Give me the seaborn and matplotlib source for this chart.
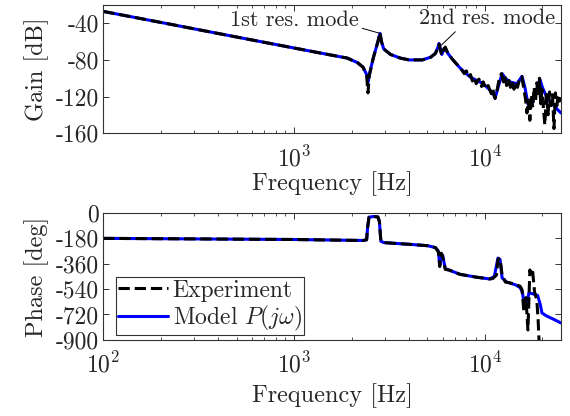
import numpy as np
import pandas as pd
import matplotlib
matplotlib.use("Agg")
import matplotlib.pyplot as plt
import seaborn as sns
from matplotlib.ticker import LogLocator, NullFormatter, FixedLocator, FixedFormatter

# ---------------- data ----------------
gain_model_f = [100, 200, 500, 1000, 1500, 1900, 2150, 2300, 2400, 2440, 2480, 2600,
                2750, 2820, 2870, 2950, 3200, 3600, 4000, 4700, 5200, 5500, 5700,
                5750, 5850, 5950, 6100, 6200, 6400, 6800, 7500, 8400, 9800, 11000,
                11300, 11800, 12300, 12800, 13500, 14700, 15400, 15650, 16200, 16800,
                17200, 17800, 18500, 19400, 20000, 21100, 22500, 25000]
gain_model_db = [-27, -39, -55, -67, -74, -78, -83, -88, -96, -104, -96, -78,
                 -60, -51, -60, -68, -74, -78, -80, -80, -77, -73, -65,
                 -62, -68, -74, -68, -67, -73, -80, -90, -99, -106, -116,
                 -122, -108, -95, -100, -104, -106, -100, -98, -110, -128,
                 -132, -126, -115, -101, -110, -121, -128, -138]

gain_exp_f = [100, 200, 500, 1000, 1500, 1900, 2150, 2300, 2400, 2440, 2480, 2600,
              2750, 2820, 2870, 2950, 3200, 3600, 4000, 4700, 5200, 5500, 5700,
              5750, 5850, 5950, 6100, 6200, 6400, 6800, 7500, 7800, 8000, 8200,
              8400, 8600, 8800, 9000, 9300, 9600, 9800, 10100, 10400, 10800, 11000,
              11300, 11600, 11900, 12200, 12500, 12700, 13000, 13300, 13600, 13900,
              14200, 14500, 14800, 15200, 15600, 16000, 16300, 16600, 16900, 17200,
              17500, 17800, 18100, 18400, 18700, 19000, 19300, 19600, 19900, 20300,
              20600, 21000, 21400, 21800, 22200, 22600, 23000, 23400, 23800, 24200,
              24600, 25000]
gain_exp_db = [-27, -39, -55, -67, -74, -78, -83, -88, -97, -116, -97, -78,
               -60, -50, -60, -68, -74, -78, -80, -80, -77, -73, -66,
               -63, -70, -75, -68, -66, -73, -80, -90, -95, -92, -99,
               -96, -103, -99, -106, -101, -109, -104, -112, -108, -117, -112,
               -122, -112, -100, -95, -104, -98, -108, -101, -110, -103,
               -112, -104, -110, -101, -98, -112, -122, -138, -124, -146,
               -118, -132, -110, -126, -105, -120, -100, -128, -112, -135,
               -151, -116, -140, -115, -130, -118, -155, -116, -130, -118,
               -125, -122]

phase_model_f = [100, 1000, 2300, 2400, 2430, 2470, 2600, 2750, 2800, 2850, 2950,
                 4000, 5000, 5500, 5700, 5800, 5900, 6000, 6200, 6500, 7400, 9000,
                 10600, 11200, 11700, 12000, 12300, 13000, 14500, 15300, 15700, 16200,
                 16700, 17000, 18000, 18900, 19500, 19900, 21000, 23000, 25000]
phase_model_deg = [-180, -188, -195, -190, -100, -30, -25, -28, -60, -200, -210,
                   -222, -232, -245, -270, -370, -290, -300, -395, -405, -435, -455,
                   -468, -450, -320, -330, -460, -490, -510, -530, -560, -673,
                   -620, -567, -575, -585, -650, -709, -730, -755, -780]

phase_exp_f = [100, 1000, 2300, 2400, 2430, 2470, 2600, 2750, 2800, 2850, 2950,
               4000, 5000, 5500, 5700, 5800, 5900, 6000, 6200, 6500, 7400, 9000,
               10600, 11000, 11500, 11700, 12000, 12300, 12800, 13500, 14200, 14700,
               15300, 15650, 16000, 16400, 16800, 17200, 17500, 17800, 18200, 18700,
               19000, 19200, 19500]
phase_exp_deg = [-180, -188, -195, -190, -100, -30, -25, -28, -60, -200, -210,
                 -222, -232, -245, -275, -380, -285, -305, -400, -405, -435, -455,
                 -468, -465, -440, -330, -320, -440, -490, -495, -505, -510,
                 -520, -545, -700, -600, -830, -404, -450, -420, -560, -617,
                 -760, -900, -950]

gain_ticks = [-40, -80, -120, -160]
phase_ticks = [0, -180, -360, -540, -720, -900]
legend_labels = ["Experiment", r"Model $P(j\omega)$"]

# ---------------- style ----------------
sns.set_style("ticks")
plt.rcParams.update({
    "font.family": ["cmr10", "DejaVu Serif"],
    "mathtext.fontset": "cm",
    "axes.formatter.use_mathtext": True,
    "axes.unicode_minus": False,
    "font.size": 17,
})

fig = plt.figure(figsize=(5.70, 4.16), dpi=100)
ax1 = fig.add_axes([0.181, 0.680, 0.803, 0.308])
ax2 = fig.add_axes([0.181, 0.183, 0.803, 0.305])

blue = "#0000ff"

gm = pd.DataFrame({"f": gain_model_f, "g": gain_model_db})
ge = pd.DataFrame({"f": gain_exp_f, "g": gain_exp_db})
pm = pd.DataFrame({"f": phase_model_f, "p": phase_model_deg})
pe = pd.DataFrame({"f": phase_exp_f, "p": phase_exp_deg})

sns.lineplot(data=gm, x="f", y="g", ax=ax1, color=blue, lw=2.2, estimator=None, sort=False)
sns.lineplot(data=ge, x="f", y="g", ax=ax1, color="black", lw=2.2, ls="--", estimator=None, sort=False)
sns.lineplot(data=pm, x="f", y="p", ax=ax2, color=blue, lw=2.2, estimator=None, sort=False,
             label=legend_labels[1])
sns.lineplot(data=pe, x="f", y="p", ax=ax2, color="black", lw=2.2, ls="--", estimator=None, sort=False,
             label=legend_labels[0])

for ax in (ax1, ax2):
    ax.set_xscale("log")
    ax.set_xlim(100, 25000)
    ax.xaxis.set_minor_locator(LogLocator(base=10, subs=np.arange(2, 10)))
    ax.xaxis.set_minor_formatter(NullFormatter())
    ax.tick_params(which="both", direction="in", top=True, right=True, labelsize=17,
                   color="#333333")
    ax.tick_params(axis="x", which="major", pad=9)
    ax.tick_params(axis="y", which="major", pad=3)
    ax.tick_params(which="major", length=4, width=0.7)
    ax.tick_params(which="minor", length=2.5, width=0.6)
    for s in ax.spines.values():
        s.set_linewidth(0.8)
        s.set_color("#333333")

ax1.set_xlabel("Frequency [Hz]", fontsize=17.5, labelpad=0)
ax2.set_xlabel("Frequency [Hz]", fontsize=17.5, labelpad=4)

ax1.set_ylim(-160, -20)
ax1.yaxis.set_major_locator(FixedLocator(gain_ticks))
ax1.yaxis.set_major_formatter(FixedFormatter([str(v) for v in gain_ticks]))
ax1.xaxis.set_major_locator(FixedLocator([1e3, 1e4]))
ax1.set_ylabel("Gain [dB]", fontsize=17.5, labelpad=5)

ax2.set_ylim(-900, 0)
ax2.yaxis.set_major_locator(FixedLocator(phase_ticks))
ax2.yaxis.set_major_formatter(FixedFormatter([str(v) for v in phase_ticks]))
ax2.xaxis.set_major_locator(FixedLocator([1e2, 1e3, 1e4]))
ax2.set_ylabel("Phase [deg]", fontsize=17.5, labelpad=5)

ax1.annotate("1st res. mode", xy=(2820, -51), xytext=(2190, -37), ha="right", va="center",
             fontsize=16,
             arrowprops=dict(arrowstyle="-", color="black", lw=0.7, shrinkA=0, shrinkB=0,
                             relpos=(1.0, 0.15)))
ax1.annotate("2nd res. mode", xy=(5900, -64), xytext=(10300, -35), ha="center", va="center",
             fontsize=16,
             arrowprops=dict(arrowstyle="-", color="black", lw=0.7, shrinkA=0, shrinkB=0,
                             relpos=(0.29, 0.0)))

handles, labels = ax2.get_legend_handles_labels()
order = [labels.index(legend_labels[0]), labels.index(legend_labels[1])]
leg = ax2.legend([handles[i] for i in order], [labels[i] for i in order],
                 loc="lower left", bbox_to_anchor=(0.028, 0.035), borderaxespad=0,
                 fancybox=False, framealpha=1, edgecolor="#333333", fontsize=17,
                 handlelength=2.1, handletextpad=0.2, borderpad=0.1, labelspacing=0.1)
leg.get_frame().set_linewidth(0.8)

fig.savefig("out.png", dpi=100)
